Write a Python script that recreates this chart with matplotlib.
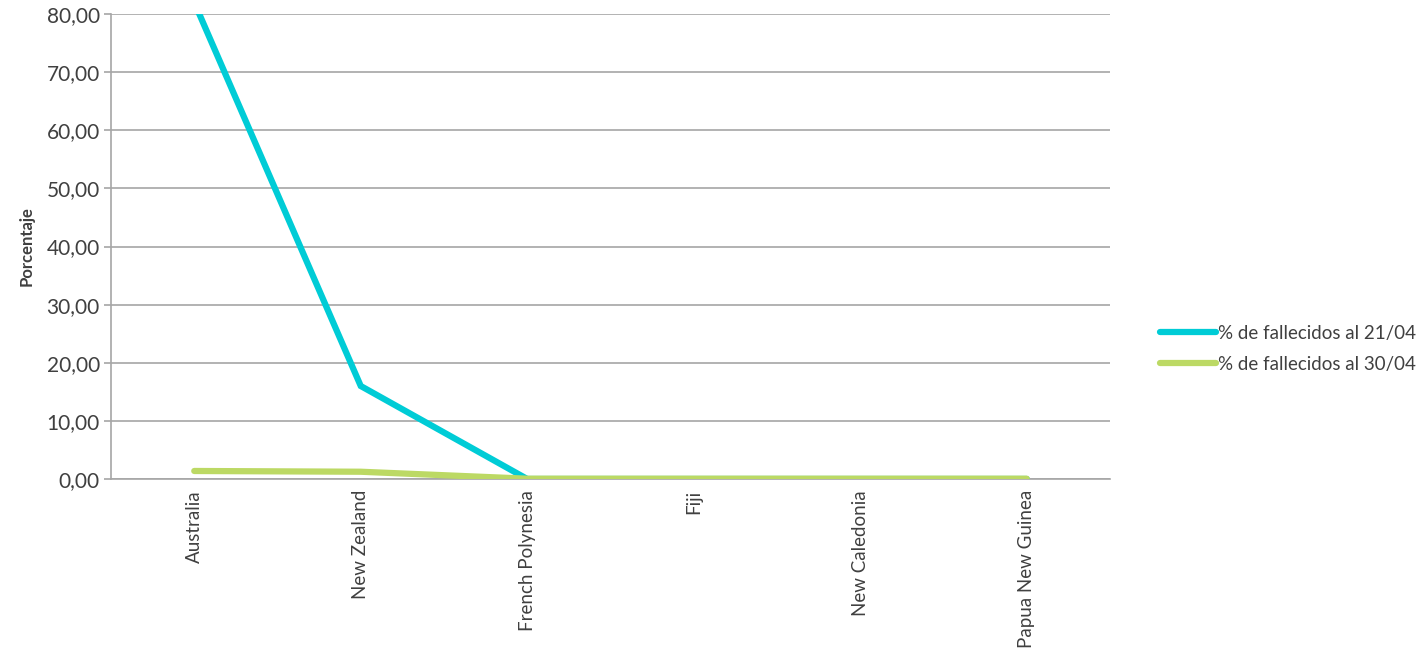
import numpy as np
import matplotlib
matplotlib.use("Agg")
import matplotlib.pyplot as plt
from matplotlib.ticker import FuncFormatter

# Data
countries = ["Australia", "New Zealand", "French Polynesia", "Fiji",
             "New Caledonia", "Papua New Guinea"]
deaths_2104 = [82.0, 16.0, 0.0, 0.0, 0.0, 0.0]
deaths_3004 = [1.38, 1.25, 0.05, 0.05, 0.05, 0.05]
series_labels = ["% de fallecidos al 21/04", "% de fallecidos al 30/04"]
y_ticks = [0, 10, 20, 30, 40, 50, 60, 70, 80]

plt.rcParams["font.family"] = ["Lato", "DejaVu Sans"]
text_col = "#404040"
grid_col = "#a6a6a6"

fig = plt.figure(figsize=(14.25, 6.59), dpi=100)
ax = fig.add_axes([111 / 1425, 1 - 479 / 659, 999 / 1425, 465 / 659])

x = np.arange(len(countries))
ax.plot(x, deaths_2104, color="#00ccd6", lw=4.5, solid_capstyle="round",
        solid_joinstyle="miter", label=series_labels[0], zorder=3)
ax.plot(x, deaths_3004, color="#bcd964", lw=4.5, solid_capstyle="round",
        label=series_labels[1], zorder=3)

ax.set_xlim(-0.5, len(countries) - 0.5)
ax.set_ylim(0, 80)
ax.set_yticks(y_ticks)
ax.yaxis.set_major_formatter(FuncFormatter(lambda v, p: f"{v:.2f}".replace(".", ",")))
ax.grid(axis="y", color=grid_col, lw=1.2, zorder=0)

ax.set_xticks(x)
ax.set_xticklabels(countries, rotation=90, va="top", ha="center")
ax.tick_params(axis="x", length=0, pad=8, labelsize=13.5, colors=text_col)
ax.tick_params(axis="y", length=5, width=1.2, pad=3, labelsize=15, colors=text_col)
ax.tick_params(axis="y", color=grid_col)

for s in ["top", "right"]:
    ax.spines[s].set_visible(False)
for s in ["left", "bottom"]:
    ax.spines[s].set_color(grid_col)
    ax.spines[s].set_linewidth(1.2)

ax.set_ylabel("Porcentaje", fontsize=12, fontweight="bold", color=text_col, labelpad=9)

leg = ax.legend(loc="center left", bbox_to_anchor=(1.033, 0.28), frameon=False,
                fontsize=13.5, handlelength=3.0, handletextpad=0.1, labelspacing=0.72)
for t in leg.get_texts():
    t.set_color(text_col)

fig.savefig("out.png", dpi=100)
